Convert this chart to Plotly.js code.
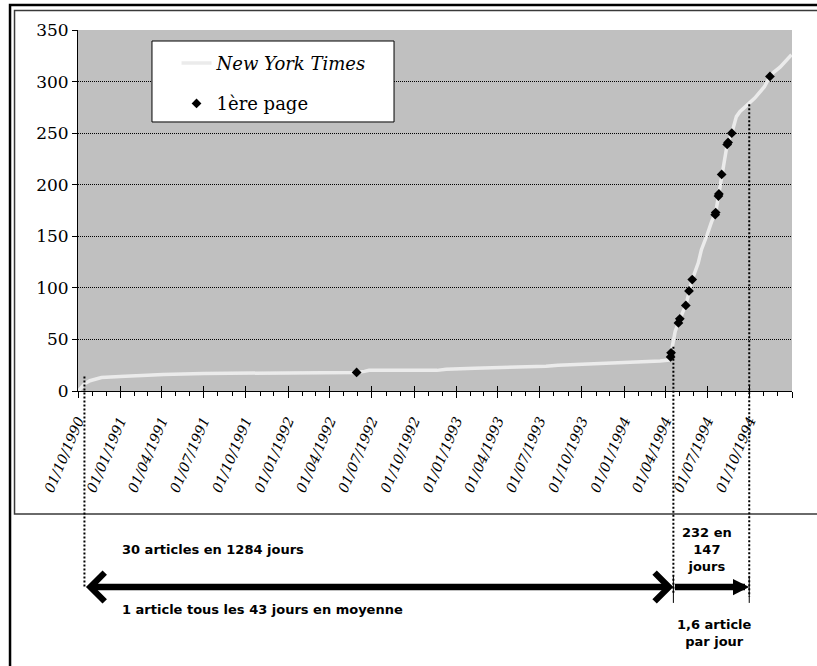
<!DOCTYPE html>
<html><head><meta charset="utf-8">
<script src="https://cdn.plot.ly/plotly-3.0.1.min.js"></script>
<style>html,body{margin:0;padding:0;background:#fff;}#chart{width:817px;height:666px;}</style>
</head><body><div id="chart"></div>
<script>
// ---- data ----
const curveDates = ['1990-10-02','1990-10-08','1990-10-15','1990-10-27','1990-11-10','1990-11-21','1991-01-01','1991-02-05','1991-04-04','1991-07-01','1992-05-29','1992-06-15','1992-06-25','1992-11-20','1992-12-10','1993-02-10','1993-05-20','1993-07-15','1993-08-10','1993-10-01','1993-12-10','1994-02-10','1994-03-20','1994-04-08','1994-04-12','1994-04-13','1994-04-16','1994-04-22','1994-04-29','1994-05-02','1994-05-08','1994-05-15','1994-05-22','1994-05-29','1994-06-11','1994-06-18','1994-06-30','1994-07-10','1994-07-19','1994-07-25','1994-08-01','1994-08-06','1994-08-13','1994-08-15','1994-08-23','1994-09-02','1994-09-10','1994-09-20','1994-10-01','1994-10-12','1994-11-02','1994-11-14','1994-11-22','1994-12-06','1994-12-31'];
const curveValues = [0,3,7,10,12,13,14,15,16,17,18,19,20,20,21,22,23,24,25,26,27,28,29,30,33,37,45,58,66,70,76,83,97,108,124,137,151,164,173,190,210,222,239,241,250,266,271,275,279,284,295,305,309,314,326];
const frontDates = ['1992-05-29','1994-04-12','1994-04-13','1994-04-29','1994-05-02','1994-05-15','1994-05-22','1994-05-29','1994-07-18','1994-07-19','1994-07-25','1994-07-26','1994-08-01','1994-08-13','1994-08-15','1994-08-23','1994-11-14'];
const frontValues = [18,33,37,66,70,83,97,108,171,173,189,191,210,239,241,250,305];
const seriesNames = ['<i>New York Times</i>','1ère page'];
const tickDates = ['1990-10-01','1991-01-01','1991-04-01','1991-07-01','1991-10-01','1992-01-01','1992-04-01','1992-07-01','1992-10-01','1993-01-01','1993-04-01','1993-07-01','1993-10-01','1994-01-01','1994-04-01','1994-07-01','1994-10-01','1995-01-01'];
const tickLabels = ['01/10/1990','01/01/1991','01/04/1991','01/07/1991','01/10/1991','01/01/1992','01/04/1992','01/07/1992','01/10/1992','01/01/1993','01/04/1993','01/07/1993','01/10/1993','01/01/1994','01/04/1994','01/07/1994','01/10/1994',''];
const yTicks = [0,50,100,150,200,250,300,350];
const periodDates = ['1990-10-15','1994-04-18','1994-09-30'];
const periodTops = [14,43,278];
const periodTexts = ['30 articles en 1284 jours','1 article tous les 43 jours en moyenne','232 en<br>147<br>jours','1,6 article<br>par jour'];

const yMax = 350;
const xRange = ['1990-10-01','1995-01-01'];

const traces = [
  {x: curveDates, y: curveValues, type:'scatter', mode:'lines', name: seriesNames[0],
   line:{color:'#ebebeb', width:3.5}, legendgroup:'a'},
  {x: frontDates, y: frontValues, type:'scatter', mode:'markers', name: seriesNames[1],
   marker:{symbol:'diamond', color:'#000', size:7.5}, legendgroup:'b'},
  {x: [], y: [], xaxis:'x2', yaxis:'y', showlegend:false, type:'scatter'}
];

const dotBottoms = [-0.543, -0.56, -0.57];
const shapes = [];
shapes.push({type:'rect', xref:'paper', yref:'paper', x0:-0.0952, x1:1.2, y0:-1.0, y1:1.0693, line:{color:'#000', width:2.5}, layer:'above'});
shapes.push({type:'rect', xref:'paper', yref:'paper', x0:-0.0889, x1:1.2, y0:-0.3407, y1:1.054, line:{color:'#3a3a3a', width:1.5}, layer:'above'});
shapes.push({type:'rect', xref:'paper', yref:'paper', x0:0.1036, x1:0.4426, y0:0.7452, y1:0.9695, fillcolor:'#fff', line:{color:'#000', width:1}, layer:'above'});
periodDates.forEach((d,i)=>{
  shapes.push({type:'line', xref:'x', yref:'paper', x0:d, x1:d, y0:periodTops[i]/yMax, y1:dotBottoms[i], line:{color:'#000', width:2, dash:'2px,2px'}, layer:'above'});
});
[periodDates[1], periodDates[2]].forEach(d=>{
  shapes.push({type:'line', xref:'x', yref:'paper', x0:d, x1:d, y0:-0.587, y1:-0.512, line:{color:'#000', width:1}, layer:'above'});
});

const txtFont = {family:'DejaVu Sans', size:13, color:'#000'};
const annotations = [
  {xref:'paper', yref:'paper', x:0.0588, y:-0.4377, xanchor:'left', yanchor:'middle', text:'<b>'+periodTexts[0]+'</b>', showarrow:false, font:txtFont},
  {xref:'paper', yref:'paper', x:0.0588, y:-0.604, xanchor:'left', yanchor:'middle', text:'<b>'+periodTexts[1]+'</b>', showarrow:false, font:txtFont},
  {xref:'paper', yref:'paper', x:0.881, y:-0.4404, xanchor:'center', yanchor:'middle', text:'<b>'+periodTexts[2]+'</b>', showarrow:false, font:txtFont},
  {xref:'paper', yref:'paper', x:0.892, y:-0.669, xanchor:'center', yanchor:'middle', text:'<b>'+periodTexts[3]+'</b>', showarrow:false, font:txtFont},
  {xref:'x', yref:'paper', x:periodDates[1], y:-0.543, axref:'x', ayref:'pixel', ax:periodDates[0], ay:0,
   text:'', showarrow:true, arrowhead:4, startarrowhead:4, arrowside:'end+start', arrowwidth:6.5, arrowsize:0.85, startarrowsize:0.85, arrowcolor:'#000', standoff:0, startstandoff:0},
  {xref:'x', yref:'paper', x:periodDates[2], y:-0.543, axref:'x', ayref:'pixel', ax:periodDates[1], ay:0,
   text:'', showarrow:true, arrowhead:2, arrowwidth:6.5, arrowsize:0.5, arrowcolor:'#000', standoff:0}
];

const layout = {
  width:817, height:666,
  margin:{l:78, r:25, t:30, b:275},
  paper_bgcolor:'#fff', plot_bgcolor:'#c0c0c0',
  showlegend:true,
  legend:{x:0.138, y:0.959, xanchor:'left', yanchor:'top', bgcolor:'rgba(0,0,0,0)', borderwidth:0,
          font:{family:'DejaVu Serif', size:18, color:'#000'}, tracegroupgap:14, traceorder:'grouped'},
  xaxis:{type:'date', range:xRange, tickmode:'array', tickvals:tickDates, ticktext:tickLabels,
         tickangle:-67, ticks:'outside', ticklen:6, tickcolor:'#000', tickwidth:1, ticklabelstandoff:9,
         tickfont:{family:'DejaVu Serif', size:14, style:'italic', color:'#000'},
         showline:true, linecolor:'#000', linewidth:1, showgrid:false, zeroline:false, automargin:false,
         minor:{tickmode:'linear', tick0:'1990-10-01', dtick:'M1', ticks:'outside', ticklen:4, tickcolor:'#000', tickwidth:1, showgrid:false}},
  xaxis2:{type:'date', range:xRange, overlaying:'x', anchor:'y', side:'bottom', tickmode:'array', tickvals:tickDates,
          ticks:'inside', ticklen:5, tickcolor:'#000', tickwidth:1, showticklabels:false, showline:false, showgrid:false, zeroline:false},
  yaxis:{range:[0,yMax], tickmode:'array', tickvals:yTicks, ticks:'outside', ticklen:5, tickcolor:'#000',
         tickfont:{family:'DejaVu Serif', size:17, color:'#000'},
         showline:true, linecolor:'#000', linewidth:1, showgrid:true, gridcolor:'#000', gridwidth:1, griddash:'1px,1px',
         zeroline:false, automargin:false},
  shapes: shapes,
  annotations: annotations
};

Plotly.newPlot('chart', traces, layout, {displayModeBar:false, staticPlot:true});
</script>
</body></html>
